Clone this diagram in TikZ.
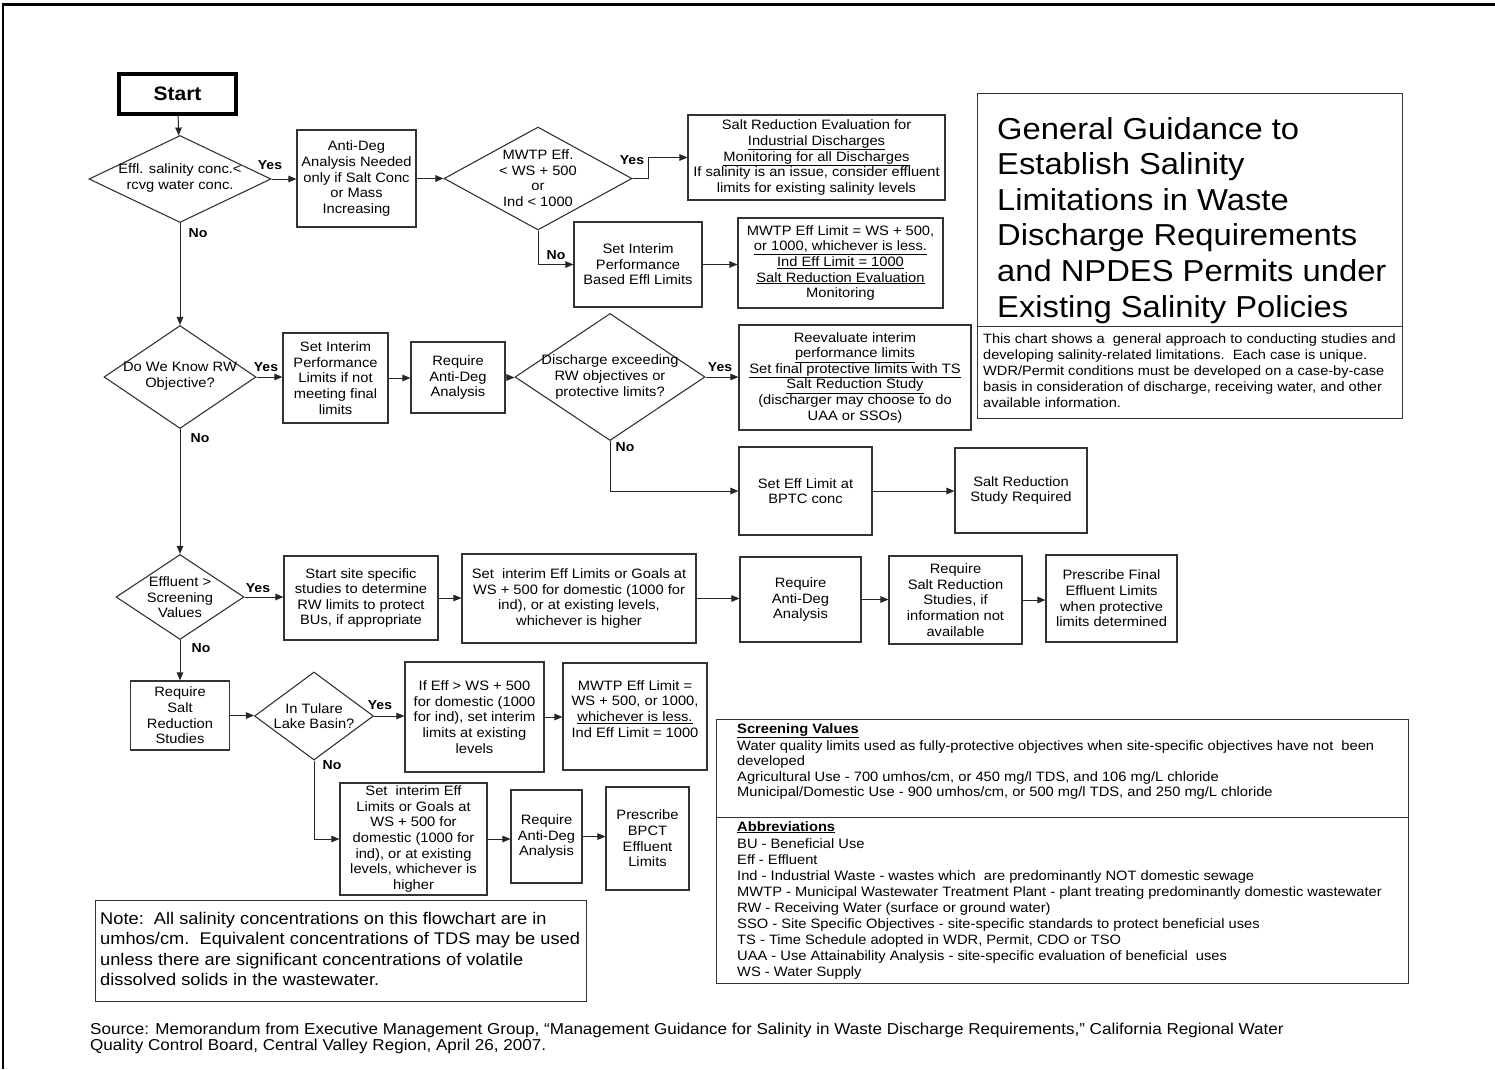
\documentclass[tikz,border=0pt]{standalone}
\usepackage{fontspec}
\setmainfont{Liberation Sans}[FakeStretch=1.08]
\usetikzlibrary{arrows.meta,shapes.geometric,calc}

\newcommand{\fsz}[2]{\fontsize{#1}{#2}\selectfont}

\begin{document}
\begin{tikzpicture}[x=1pt,y=-1pt,
  box/.style={draw=black!80, line width=1.1pt, inner sep=0pt, align=center, font=\fsz{13.6}{15.6}},
  dia/.style={draw=black!80, line width=1.1pt, diamond, inner sep=0pt},
  dtext/.style={inner sep=0pt, align=center, font=\fsz{13.6}{15.6}},
  yn/.style={inner sep=0pt, font=\bfseries\fsz{13}{15}},
  arr/.style={draw=black!85, line width=1pt, -{Triangle[length=8pt,width=6.5pt]}},
  frame/.style={draw=black!80, line width=1pt, inner sep=0pt},
  para/.style={inner sep=0pt, align=left, anchor=north west},
]
\useasboundingbox (0,0) rectangle (1495,1069);

% page frame
\draw[line width=3pt] (1.5,4.5) -- (1495,4.5);
\draw[line width=2pt] (3,3) -- (3,1069);

% ---- row 1
\node[draw=black, line width=3.5pt, inner sep=0pt, minimum width=117pt, minimum height=40pt,
      font=\bfseries\fsz{19.5}{22}] (start) at (177.5,94) {Start};
\node[dia, minimum width=182pt, minimum height=87pt] (d1) at (180,179) {};
\node[dtext] (d1t) at (180,178) {Effl. salinity conc.<\\rcvg water conc.};
\node[box, minimum width=119pt, minimum height=97pt] (antideg1) at (356.5,178.5)
  {Anti-Deg\\Analysis Needed\\only if Salt Conc\\or Mass\\Increasing};
\node[dia, minimum width=188pt, minimum height=103pt] (d2) at (538,178.5) {};
\node[dtext] (d2t) at (538,178) {MWTP Eff.\\< WS + 500\\or\\Ind < 1000};
\node[box, minimum width=257pt, minimum height=85pt] (sre) at (816.5,157.5)
  {Salt Reduction Evaluation for\\\underline{Industrial Discharges}\\\underline{Monitoring for all Discharges}\\If salinity is an issue, consider effluent\\limits for existing salinity levels};
\node[box, minimum width=128pt, minimum height=85pt] (setint1) at (638,264.5)
  {Set Interim\\Performance\\Based Effl Limits};
\node[box, minimum width=205pt, minimum height=90pt] (mwtp1) at (840.5,263)
  {MWTP Eff Limit = WS + 500,\\\underline{or 1000, whichever is less.}\\\underline{Ind Eff Limit = 1000}\\\underline{Salt Reduction Evaluation}\\Monitoring};

% ---- row 2
\node[dia, minimum width=152pt, minimum height=103pt] (d3) at (180,377) {};
\node[dtext] (d3t) at (180,376.5) {Do We Know RW\\Objective?};
\node[box, minimum width=105pt, minimum height=90pt] (sip) at (335.5,378)
  {Set Interim\\Performance\\Limits if not\\meeting final\\limits};
\node[box, minimum width=94pt, minimum height=71pt] (rad1) at (458,377.5)
  {Require\\Anti-Deg\\Analysis};
\node[dia, minimum width=190pt, minimum height=127pt] (d4) at (610,377) {};
\node[dtext] (d4t) at (610,377) {Discharge exceeding\\RW objectives or\\protective limits?};
\node[box, minimum width=232pt, minimum height=105pt] (reeval) at (855,377.5)
  {Reevaluate interim\\\underline{performance limits}\\\underline{Set final protective limits with TS}\\\underline{Salt Reduction Study}\\(discharger may choose to do\\UAA or SSOs)};
\node[box, minimum width=133pt, minimum height=88pt] (seteff) at (805.5,491)
  {Set Eff Limit at\\BPTC conc};
\node[box, minimum width=132pt, minimum height=85pt] (srs) at (1021,490.5)
  {Salt Reduction\\Study Required};

% ---- row 3
\node[dia, minimum width=128pt, minimum height=85pt] (d5) at (180,597) {};
\node[dtext] (d5t) at (180,597.5) {Effluent >\\Screening\\Values};
\node[box, minimum width=154pt, minimum height=84pt] (startsite) at (361,598)
  {Start site specific\\studies to determine\\RW limits to protect\\BUs, if appropriate};
\node[box, minimum width=234pt, minimum height=89pt] (setinteff) at (579,598.5)
  {Set\ \ interim Eff Limits or Goals at\\WS + 500 for domestic (1000 for\\ind), or at existing levels,\\whichever is higher};
\node[box, minimum width=121pt, minimum height=85pt] (rad2) at (800.5,599.5)
  {Require\\Anti-Deg\\Analysis};
\node[box, minimum width=133pt, minimum height=88pt] (rsalt) at (955.5,600)
  {Require\\Salt Reduction\\Studies, if\\information not\\available};
\node[box, minimum width=131pt, minimum height=87pt] (presfinal) at (1111.5,598.5)
  {Prescribe Final\\Effluent Limits\\when protective\\limits determined};

% ---- row 4
\node[box, minimum width=99pt, minimum height=69pt] (reqsalt) at (180,715.5)
  {Require\\Salt\\Reduction\\Studies};
\node[dia, minimum width=119pt, minimum height=88pt] (d6) at (314,716) {};
\node[dtext] (d6t) at (314,716) {In Tulare\\Lake Basin?};
\node[box, minimum width=139pt, minimum height=110pt] (ifeff) at (474.5,717)
  {If Eff > WS + 500\\for domestic (1000\\for ind), set interim\\limits at existing\\levels};
\node[box, minimum width=144pt, minimum height=107pt] (mwtp2) at (635,716.5)
  {MWTP Eff Limit =\\WS + 500, or 1000,\\\underline{whichever is less.}\\Ind Eff Limit = 1000\\[0pt]};
\node[box, minimum width=147pt, minimum height=112pt] (setint2) at (413.5,839)
  {Set\ \ interim Eff\\Limits or Goals at\\WS + 500 for\\domestic (1000 for\\ind), or at existing\\levels, whichever is\\higher};
\node[box, minimum width=71pt, minimum height=93pt] (rad3) at (546.5,836.5)
  {Require\\Anti-Deg\\Analysis};
\node[box, minimum width=83pt, minimum height=103pt] (presbpct) at (647.5,838.5)
  {Prescribe\\BPCT\\Effluent\\Limits};

% ---- connectors
\draw[arr] (start) -- (d1);
\draw[arr] (d1.east) -- (d1.east -| antideg1.west);
\draw[arr] (antideg1.east) -- (antideg1.east -| d2.west);
\draw[arr] (d2.east) -- ++(16,0) |- (sre.west);
\draw[arr] (d2.south) |- (setint1.west);
\draw[arr] (setint1.east) -- (setint1.east -| mwtp1.west);
\draw[arr] (d1.south) -- (d3.north);
\draw[arr] (d3.east) -- (d3.east -| sip.west);
\draw[arr] (sip.east) -- (sip.east -| rad1.west);
\draw[arr] (rad1.east) -- (rad1.east -| d4.west);
\draw[arr] (d4.east) -- (d4.east -| reeval.west);
\draw[arr] (d4.south) |- (seteff.west);
\draw[arr] (seteff.east) -- (seteff.east -| srs.west);
\draw[arr] (d3.south) -- (d5.north);
\draw[arr] (d5.east) -- (d5.east -| startsite.west);
\draw[arr] (startsite.east) -- (startsite.east -| setinteff.west);
\draw[arr] (setinteff.east) -- (setinteff.east -| rad2.west);
\draw[arr] (rad2.east) -- (rad2.east -| rsalt.west);
\draw[arr] (rsalt.east) -- (rsalt.east -| presfinal.west);
\draw[arr] (d5.south) -- (reqsalt.north);
\draw[arr] (reqsalt.east) -- (reqsalt.east -| d6.west);
\draw[arr] (d6.east) -- (d6.east -| ifeff.west);
\draw[arr] (ifeff.east) -- (ifeff.east -| mwtp2.west);
\draw[arr] (d6.south) |- (setint2.west);
\draw[arr] (setint2.east) -- (setint2.east -| rad3.west);
\draw[arr] (rad3.east) -- (rad3.east -| presbpct.west);

% ---- yes / no labels
\node[yn] (y1) at (270,165) {Yes};
\node[yn] (n1) at (198,233) {No};
\node[yn] (y2) at (632,160) {Yes};
\node[yn] (n2) at (556,255) {No};
\node[yn] (y3) at (266,367) {Yes};
\node[yn] (n3) at (200,438) {No};
\node[yn] (y4) at (720,367) {Yes};
\node[yn] (n4) at (625,447) {No};
\node[yn] (y5) at (258,588) {Yes};
\node[yn] (n5) at (201,648) {No};
\node[yn] (y6) at (380,705) {Yes};
\node[yn] (n6) at (332,765) {No};

% ---- title panel
\node[frame, minimum width=425pt, minimum height=325pt] (titlebox) at (1189.5,255.5) {};
\draw[draw=black!80, line width=1pt] (titlebox.west |- 0,326) -- (titlebox.east |- 0,326);
\node[para, font=\fsz{30.3}{35.6}] (titletxt) at (997,117)
  {General Guidance to\\Establish Salinity\\Limitations in Waste\\Discharge Requirements\\and NPDES Permits under\\Existing Salinity Policies};
\node[para, font=\fsz{13.5}{16}] (desctxt) at (983,334)
  {This chart shows a\ \ general approach to conducting studies and\\developing salinity-related limitations.\ \ Each case is unique.\\WDR/Permit conditions must be developed on a case-by-case\\basis in consideration of discharge, receiving water, and other\\available information.};

% ---- legend panel
\node[frame, minimum width=692pt, minimum height=264pt] (legend) at (1062,851) {};
\draw[draw=black!80, line width=1pt] (legend.west |- 0,817) -- (legend.east |- 0,817);
\node[para, font=\fsz{13.6}{15.6}] (scrtxt) at (737,723)
  {\textbf{\underline{Screening Values}}\\[1.5pt]
   Water quality limits used as fully-protective objectives when site-specific objectives have not\ \ been\\
   developed\\
   Agricultural Use - 700 umhos/cm, or 450 mg/l TDS, and 106 mg/L chloride\\
   Municipal/Domestic Use - 900 umhos/cm, or 500 mg/l TDS, and 250 mg/L chloride};
\node[para, font=\fsz{13.6}{16}] (abbrtxt) at (737,821)
  {\textbf{\underline{Abbreviations}}\\[1pt]
   BU - Beneficial Use\\
   Eff - Effluent\\
   Ind - Industrial Waste - wastes which\ \ are predominantly NOT domestic sewage\\
   MWTP - Municipal Wastewater Treatment Plant - plant treating predominantly domestic wastewater\\
   RW - Receiving Water (surface or ground water)\\
   SSO - Site Specific Objectives - site-specific standards to protect beneficial uses\\
   TS - Time Schedule adopted in WDR, Permit, CDO or TSO\\
   UAA - Use Attainability Analysis - site-specific evaluation of beneficial\ \ uses\\
   WS - Water Supply};

% ---- note panel
\node[frame, minimum width=491pt, minimum height=101pt] (notebox) at (340.5,950.5) {};
\node[para, font=\fsz{16.9}{20.5}] (notetxt) at (100,912)
  {Note:\ \ All salinity concentrations on this flowchart are in\\
   umhos/cm.\ \ Equivalent concentrations of TDS may be used\\
   unless there are significant concentrations of volatile\\
   dissolved solids in the wastewater.};

% ---- source line
\node[para, font=\fsz{15.8}{15.5}] (srctxt) at (90,1023)
  {Source: Memorandum from Executive Management Group, “Management Guidance for Salinity in Waste Discharge Requirements,” California Regional Water\\
   Quality Control Board, Central Valley Region, April 26, 2007.};
\end{tikzpicture}
\end{document}
